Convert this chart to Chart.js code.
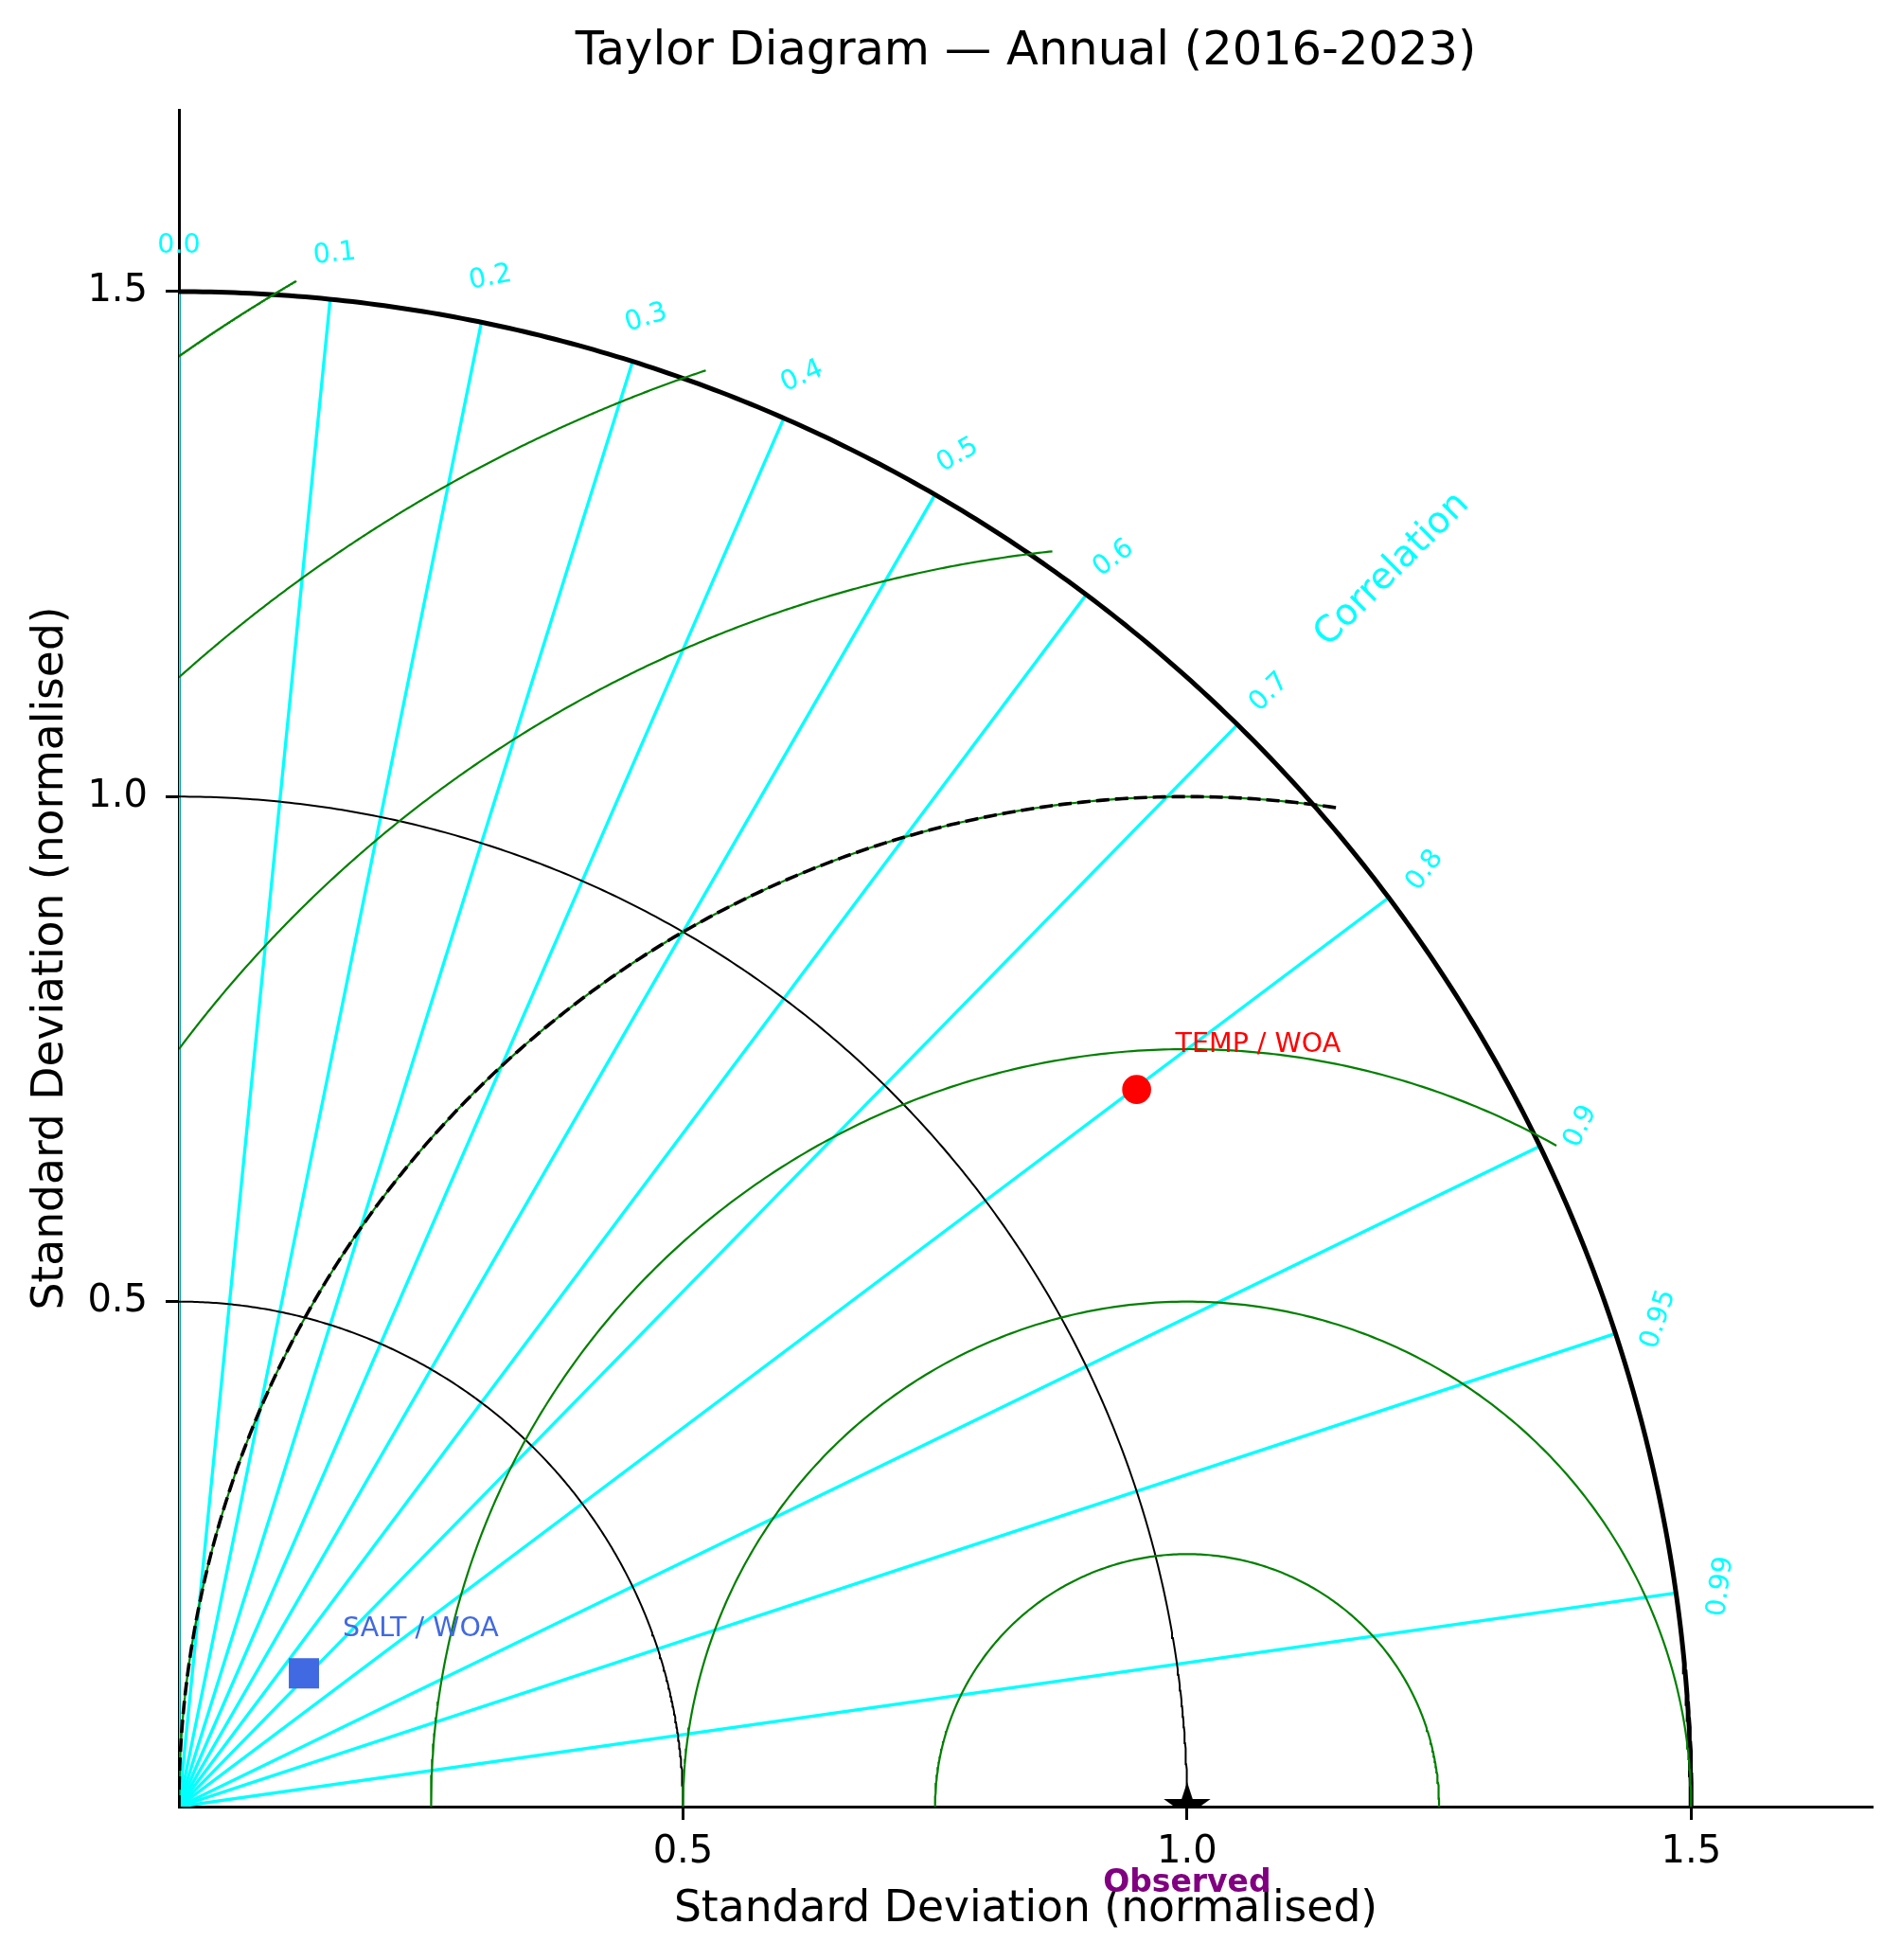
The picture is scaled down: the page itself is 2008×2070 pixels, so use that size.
<!DOCTYPE html>
<html>
<head>
<meta charset="utf-8">
<title>Taylor Diagram — Annual (2016-2023)</title>
<script src="https://cdn.jsdelivr.net/npm/chart.js@4.4.1/dist/chart.umd.min.js"></script>
<style>
  html, body { margin: 0; padding: 0; background: #fff; }
  #chart { display: block; }
</style>
</head>
<body>
<canvas id="chart" width="2008" height="2070" style="width:2008px;height:2070px"></canvas>
<script>
// correlation ticks round the arc
const corrTicks = [0.0, 0.1, 0.2, 0.3, 0.4, 0.5, 0.6, 0.7, 0.8, 0.9, 0.95, 0.99];
const corrLabels = ["0.0", "0.1", "0.2", "0.3", "0.4", "0.5", "0.6", "0.7", "0.8", "0.9", "0.95", "0.99"];

// standard deviation axis
const stdTicks = [0.5, 1.0, 1.5];
const stdTickLabels = ["0.5", "1.0", "1.5"];
const stdArcs = [0.5, 1.0];
const stdMax = 1.5;
const refStd = 1.0;

// centred RMS difference contours (around the reference point)
const rmsLevels = [0.25, 0.5, 0.75, 1.0, 1.25, 1.5, 1.75];
const rmsDashed = 1.0;

// models
const modelNames = ["TEMP / WOA", "SALT / WOA"];
const modelStd = [1.186, 0.181];
const modelCorr = [0.801, 0.685];
const modelColors = ["#ff0000", "#4169e1"];
const modelShapes = ["circle", "rect"];

const FONT = '"DejaVu Sans", sans-serif';
const axisMax = 1.68;
const rmsClip = stdMax * 1.01;

// **Sample an arc around (cx, 0) between two angles**
function arc(cx, r, a0, a1) {
  let pts = [];
  let n = 300;
  for (let i = 0; i <= n; i++) {
    let a = a0 + (a1 - a0) * i / n;
    pts.push({ x: cx + r * Math.cos(a), y: r * Math.sin(a) });
  }
  return pts;
}

// **RMS circle, kept inside the first quadrant and the outer std arc**
function rmsArc(r) {
  let lo = Math.acos(Math.min(1, (rmsClip * rmsClip - refStd * refStd - r * r) / (2 * refStd * r)));
  let hi = Math.acos(Math.max(-1, -refStd / r));
  return arc(refStd, r, lo, hi);
}

function line(data, color, width, order, dash) {
  return {
    data: data,
    showLine: true,
    borderColor: color,
    borderWidth: width,
    borderDash: dash || [],
    pointRadius: 0,
    pointHoverRadius: 0,
    fill: false,
    tension: 0,
    order: order
  };
}

// **Star marker for the observed reference**
function starImage(R) {
  let c = document.createElement("canvas");
  let s = 2 * Math.ceil(R + 2);
  c.width = s; c.height = s;
  let g = c.getContext("2d");
  g.translate(s / 2, s / 2);
  g.beginPath();
  for (let k = 0; k < 10; k++) {
    let rr = k % 2 ? R * 0.381966 : R;
    let a = -Math.PI / 2 + k * Math.PI / 5;
    g.lineTo(rr * Math.cos(a), rr * Math.sin(a));
  }
  g.closePath();
  g.fillStyle = "#000";
  g.fill();
  return c;
}

let datasets = [];

// correlation rays
corrTicks.forEach(c => {
  let s = Math.sqrt(1 - c * c);
  datasets.push(line([{ x: 0, y: 0 }, { x: stdMax * c, y: stdMax * s }], "#00ffff", 3.3, 6));
});

// std arcs
stdArcs.forEach(r => datasets.push(line(arc(0, r, 0, Math.PI / 2), "#000", 2, 4)));
datasets.push(line(arc(0, stdMax, 0, Math.PI / 2), "#000", 5, 4));

// rms contours
rmsLevels.forEach(r => datasets.push(line(rmsArc(r), "#008000", 2.2, 3)));
datasets.push(line(rmsArc(rmsDashed), "#000", 3.6, 2, [14, 6]));

// models
modelNames.forEach((name, i) => {
  let c = modelCorr[i];
  datasets.push({
    label: name,
    data: [{ x: modelStd[i] * c, y: modelStd[i] * Math.sqrt(1 - c * c) }],
    pointStyle: modelShapes[i],
    pointRadius: modelShapes[i] === "rect" ? 22.6 : 15.3,
    pointHoverRadius: modelShapes[i] === "rect" ? 22.6 : 15.3,
    backgroundColor: modelColors[i],
    borderColor: modelColors[i],
    borderWidth: 0,
    order: 0
  });
});

// observed reference, cut by the axis like the original
datasets.push({
  label: "Observed",
  data: [{ x: refStd, y: 0 }],
  pointStyle: starImage(26),
  pointRadius: 26,
  clip: 0,
  order: 1
});

// **Texts placed through the scales**
const annotate = {
  id: "annotate",
  afterDatasetsDraw(chart) {
    let { ctx, scales: { x, y } } = chart;
    ctx.save();

    ctx.fillStyle = "#00ffff";
    ctx.font = "28.5px " + FONT;
    ctx.textAlign = "center";
    ctx.textBaseline = "middle";
    corrTicks.forEach((c, i) => {
      let th = Math.acos(c);
      let px = x.getPixelForValue(stdMax * 1.03 * Math.cos(th));
      let py = y.getPixelForValue(stdMax * 1.03 * Math.sin(th));
      ctx.save();
      ctx.translate(px, py);
      ctx.rotate(-(Math.PI / 2 - th));
      ctx.fillText(corrLabels[i], 0, 0);
      ctx.restore();
    });

    // axis name of the correlation arc
    let ca = 45.5 * Math.PI / 180;
    ctx.save();
    ctx.translate(x.getPixelForValue(1.717 * Math.cos(ca)), y.getPixelForValue(1.717 * Math.sin(ca)));
    ctx.rotate(-Math.PI / 4);
    ctx.font = "38.5px " + FONT;
    ctx.fillText("Correlation", 0, 0);
    ctx.restore();

    // model labels
    ctx.font = "28.5px " + FONT;
    ctx.textAlign = "left";
    ctx.textBaseline = "alphabetic";
    modelNames.forEach((name, i) => {
      let c = modelCorr[i];
      let px = x.getPixelForValue(modelStd[i] * c);
      let py = y.getPixelForValue(modelStd[i] * Math.sqrt(1 - c * c));
      ctx.fillStyle = modelColors[i];
      ctx.fillText(name, px + 41, py - 39.5);
    });

    // observed label
    ctx.fillStyle = "#800080";
    ctx.font = "bold 33px " + FONT;
    ctx.textAlign = "center";
    ctx.fillText("Observed", x.getPixelForValue(refStd), y.getPixelForValue(0) + 90);

    ctx.restore();
  }
};

function axisOpts(isX) {
  return {
    type: "linear",
    min: 0,
    max: axisMax,
    z: 1,
    afterBuildTicks: s => { s.ticks = stdTicks.map(v => ({ value: v })); },
    afterFit: s => {
      if (isX) s.height = 162; else s.width = 189;
    },
    grid: { drawOnChartArea: false, drawTicks: true, tickLength: 14, tickWidth: 3, tickColor: "#000" },
    border: { display: true, color: "#000", width: 3 },
    ticks: {
      color: "#000",
      font: { family: FONT, size: 40 },
      padding: isX ? 11 : 19,
      callback: v => stdTickLabels[stdTicks.indexOf(v)]
    },
    title: {
      display: true,
      text: "Standard Deviation (normalised)",
      color: "#000",
      font: { family: FONT, size: 45.6 },
      padding: isX ? { top: 0, bottom: 25.6 } : { top: 26.6, bottom: 0 }
    }
  };
}

new Chart(document.getElementById("chart"), {
  type: "scatter",
  data: { datasets: datasets },
  options: {
    responsive: false,
    devicePixelRatio: 1,
    animation: false,
    events: [],
    layout: { padding: { left: 0, right: 30, top: 0, bottom: 0 } },
    scales: { x: axisOpts(true), y: axisOpts(false) },
    plugins: {
      legend: { display: false },
      tooltip: { enabled: false },
      title: {
        display: true,
        fullSize: false,
        text: "Taylor Diagram — Annual (2016-2023)",
        color: "#000",
        font: { family: FONT, size: 49.5, weight: "normal" },
        padding: { top: 25.5, bottom: 31.1 }
      }
    }
  },
  plugins: [annotate]
});
</script>
</body>
</html>
